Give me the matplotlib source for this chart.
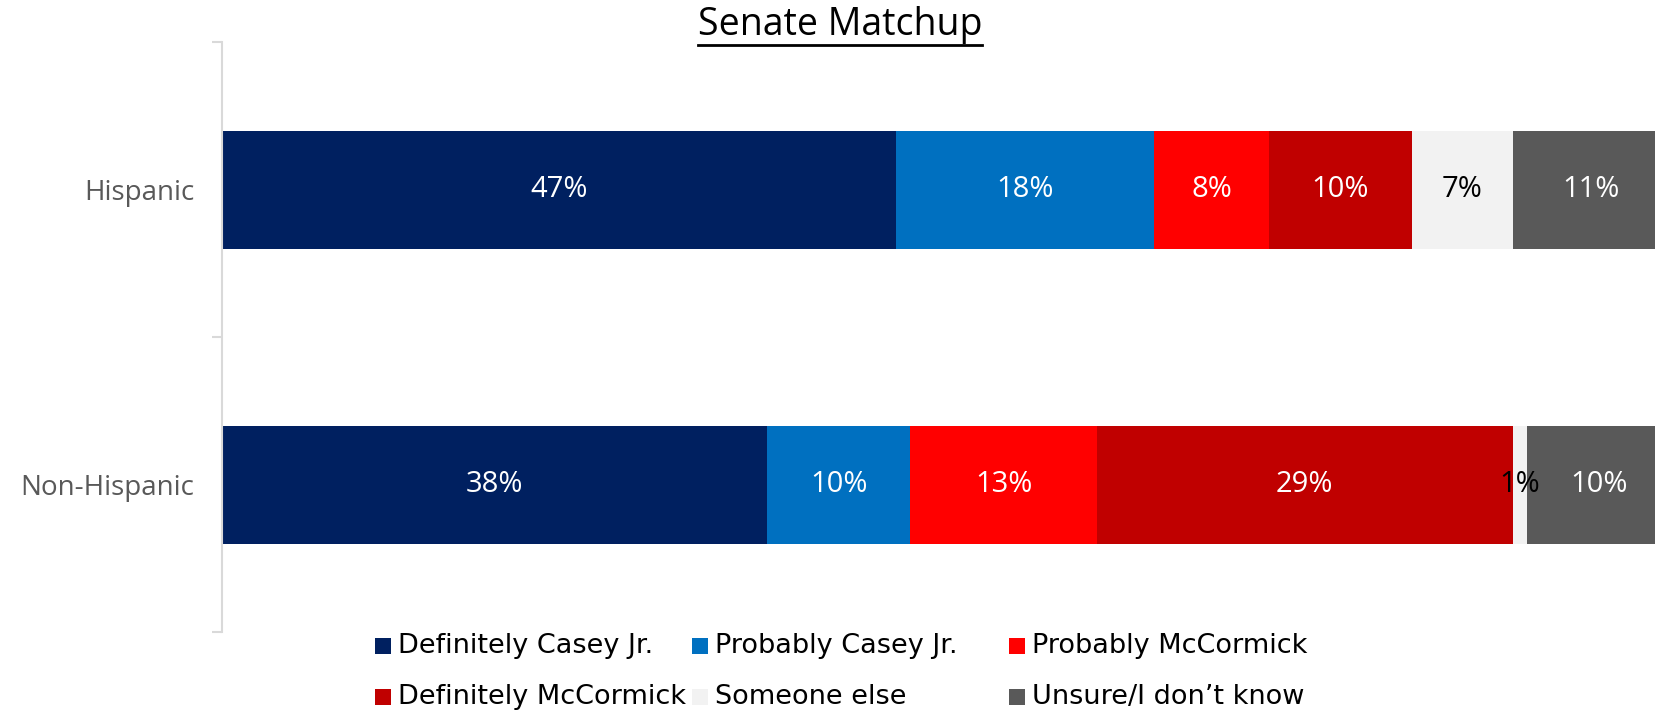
import matplotlib
matplotlib.use("Agg")
import matplotlib.pyplot as plt
import numpy as np
from matplotlib.lines import Line2D
from matplotlib.patches import Rectangle

# Data
groups = ['Hispanic', 'Non-Hispanic']
series = ['Definitely Casey Jr.', 'Probably Casey Jr.', 'Probably McCormick',
          'Definitely McCormick', 'Someone else', 'Unsure/I don\u2019t know']
values = {
    'Definitely Casey Jr.': [47, 38],
    'Probably Casey Jr.': [18, 10],
    'Probably McCormick': [8, 13],
    'Definitely McCormick': [10, 29],
    'Someone else': [7, 1],
    'Unsure/I don\u2019t know': [11, 10],
}
colors = ['#002060', '#0070C0', '#FF0000', '#C00000', '#F2F2F2', '#595959']
label_colors = ['white', 'white', 'white', 'white', 'black', 'white']

W, H = 1656, 715
fig = plt.figure(figsize=(W / 100, H / 100), dpi=100)
ax = fig.add_axes([222 / W, 83 / H, (W - 222) / W, 590 / H])

num_font = ['Open Sans', 'DejaVu Sans']
y = np.arange(len(groups))
left = np.zeros(len(groups))
for s, c, lc in zip(series, colors, label_colors):
    v = np.array(values[s], dtype=float)
    ax.barh(y, v, left=left, height=0.40, color=c, linewidth=0)
    for yi, (l, vi) in enumerate(zip(left, v)):
        ax.text(l + vi / 2, yi, f'{vi:.0f}%', ha='center', va='center',
                color=lc, fontsize=21, family=num_font)
    left += v

ax.set_xlim(0, 100)
ax.set_ylim(1.5, -0.5)
for sp in ['top', 'right', 'bottom']:
    ax.spines[sp].set_visible(False)
ax.spines['left'].set_color('#D9D9D9')
ax.spines['left'].set_linewidth(1.5)
ax.set_xticks([])
ax.set_yticks(y)
ax.set_yticklabels(groups, fontsize=20, color='#595959', family=num_font)
ax.tick_params(axis='y', which='major', length=0, pad=20)
ax.set_yticks([-0.5, 0.5, 1.5], minor=True)
ax.tick_params(axis='y', which='minor', length=7, width=1.5, color='#D9D9D9')

# Title with underline
title = fig.text(840 / W, 1 - 25 / H, 'Senate Matchup', ha='center', va='center',
                 fontsize=27, family=['Open Sans', 'DejaVu Sans'], color='black')
fig.canvas.draw()
bb = title.get_window_extent().transformed(fig.transFigure.inverted())
fig.add_artist(Line2D([bb.x0, bb.x1], [1 - 45 / H, 1 - 45 / H],
                      transform=fig.transFigure, color='black', linewidth=2))

# Legend (3 columns x 2 rows)
col_x = [375, 692, 1009]
row_y = [646, 697]
leg_font = ['DejaVu Sans']
for i, (s, c) in enumerate(zip(series, colors)):
    cx = col_x[i % 3] / W
    cy = 1 - row_y[i // 3] / H
    fig.add_artist(Rectangle((cx, cy - 8 / H), 16 / W, 16 / H,
                             transform=fig.transFigure, color=c, linewidth=0))
    fig.text(cx + 23 / W, cy, s, ha='left', va='center', fontsize=19.5,
             family=leg_font, color='black')

fig.savefig('out.png', dpi=100)
